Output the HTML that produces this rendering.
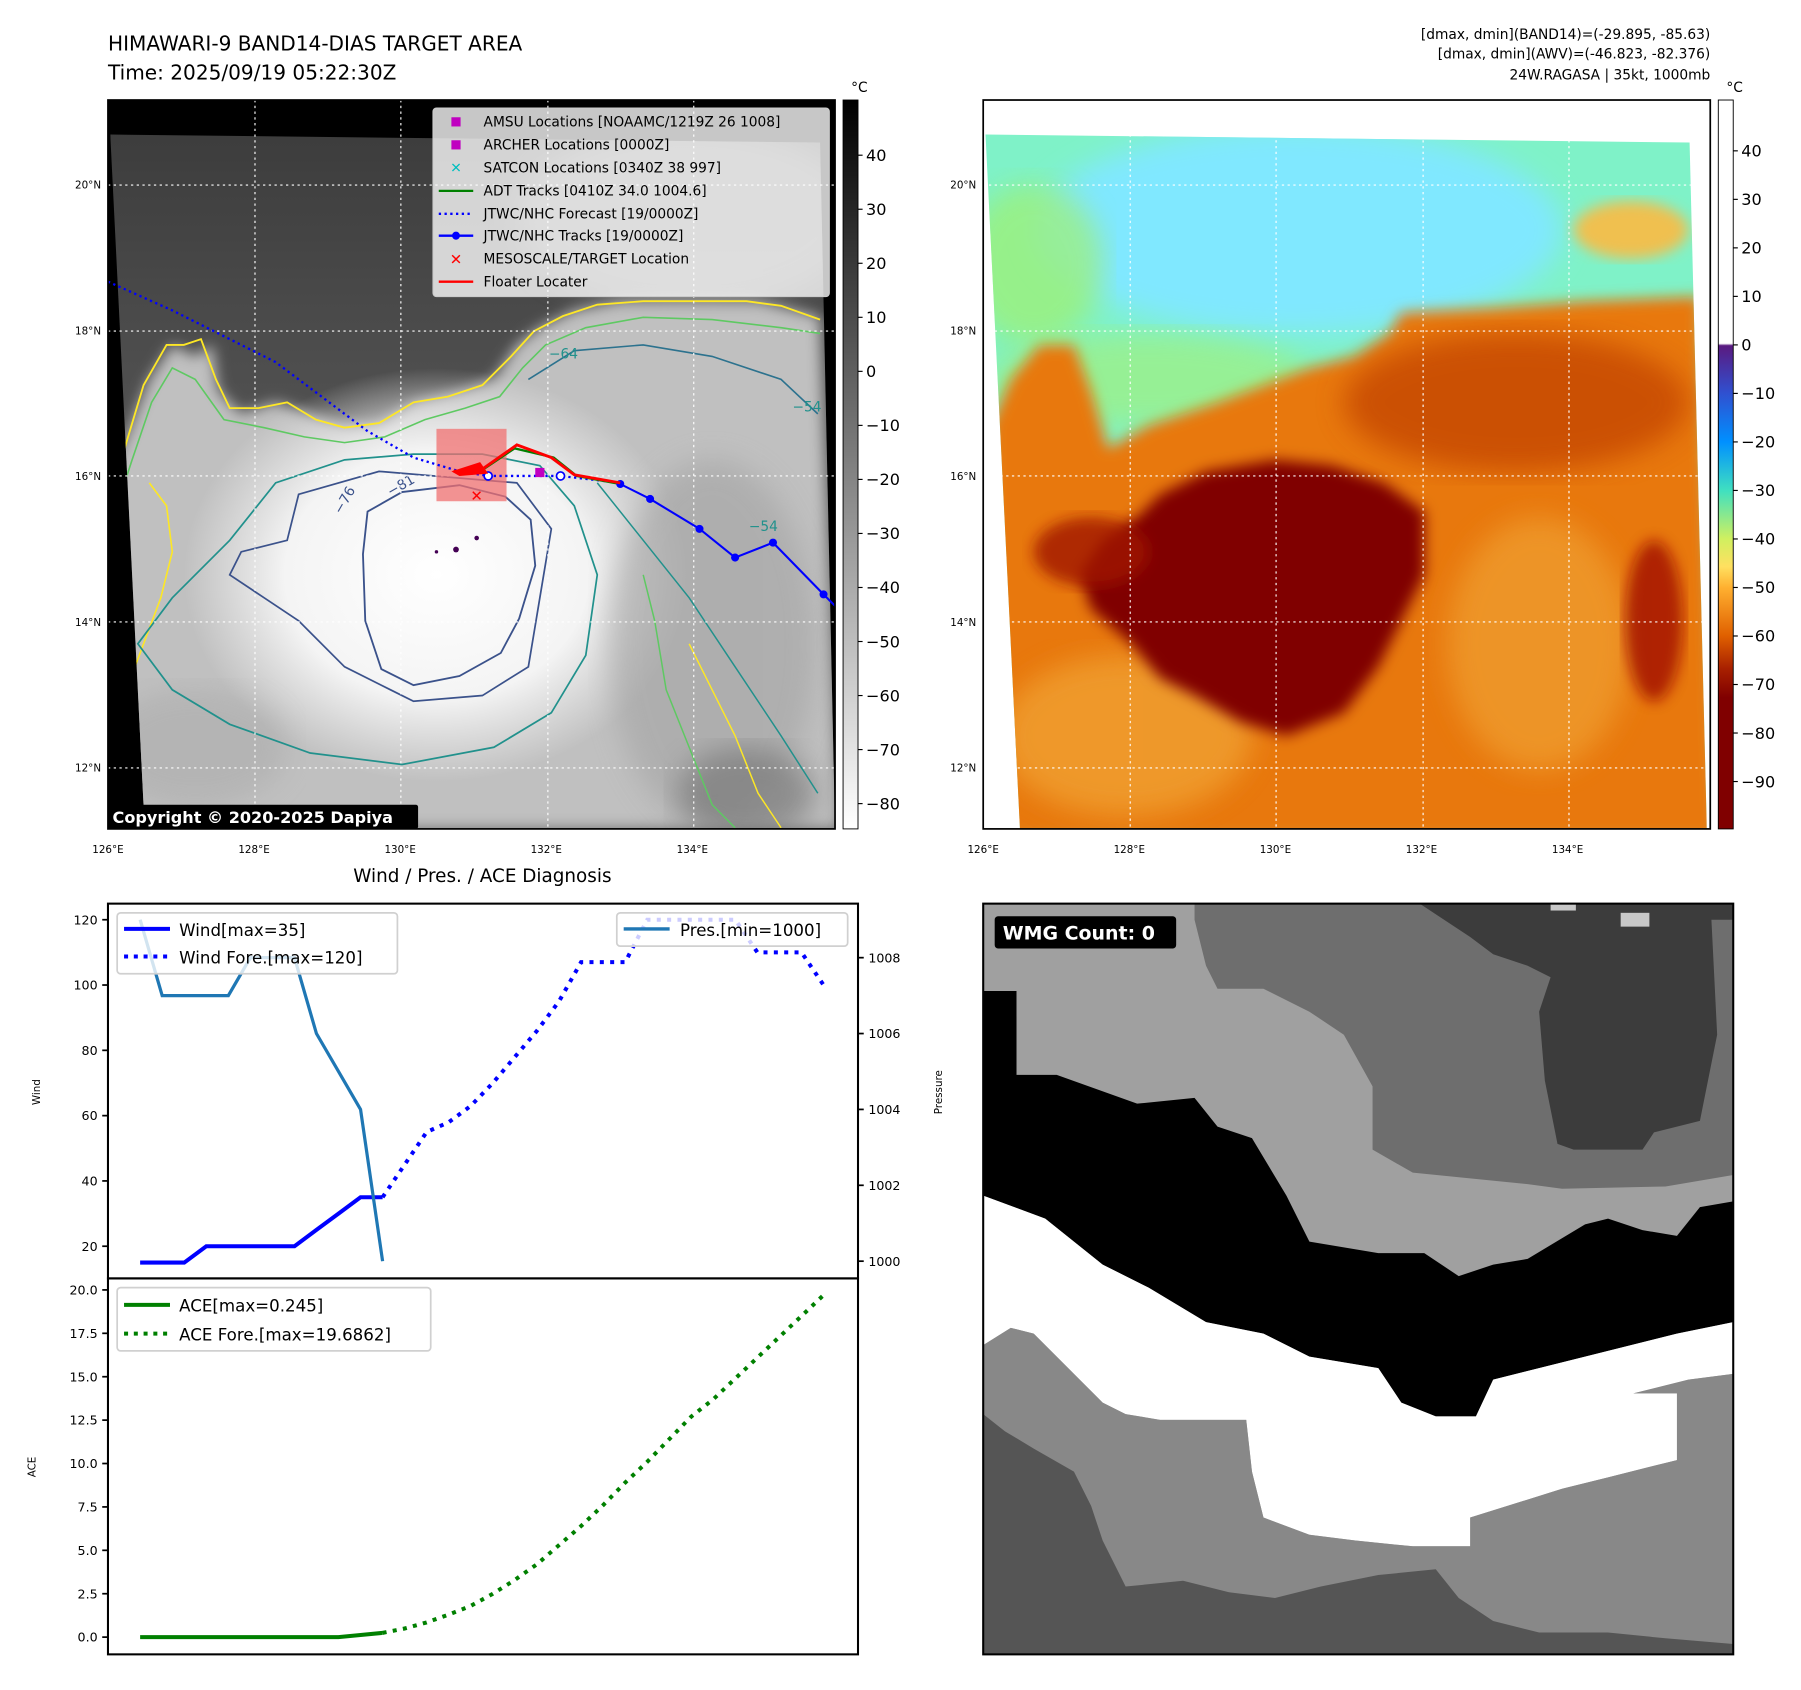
<!DOCTYPE html>
<html><head><meta charset="utf-8"><style>
html,body{margin:0;padding:0;background:#fff;}
svg{display:block;font-family:"DejaVu Sans","Liberation Sans",sans-serif;}
</style></head><body>
<svg id="fig" width="1801" height="1690" viewBox="0 0 1568 1470" preserveAspectRatio="none" xmlns="http://www.w3.org/2000/svg">
<defs>
<linearGradient id="grayBar" x1="0" y1="0" x2="0" y2="1"><stop offset="0" stop-color="#000"/><stop offset="1" stop-color="#fff"/></linearGradient>
<linearGradient id="tempBar" x1="0" y1="0" x2="0" y2="1">
<stop offset="0" stop-color="#fff"/><stop offset="0.334" stop-color="#fff"/><stop offset="0.337" stop-color="#5a1a80"/>
<stop offset="0.402" stop-color="#3050d0"/><stop offset="0.469" stop-color="#0090ff"/><stop offset="0.536" stop-color="#40e0c0"/>
<stop offset="0.602" stop-color="#d0f060"/><stop offset="0.64" stop-color="#ffe060"/><stop offset="0.669" stop-color="#ffb030"/>
<stop offset="0.735" stop-color="#e06000"/><stop offset="0.78" stop-color="#a82000"/><stop offset="0.82" stop-color="#800000"/><stop offset="1" stop-color="#800000"/></linearGradient>
<linearGradient id="irGray" x1="0" y1="0" x2="0" y2="1"><stop offset="0" stop-color="#3c3c3c"/><stop offset="0.3" stop-color="#4c4c4c"/><stop offset="1" stop-color="#6a6a6a"/></linearGradient>
<radialGradient id="cdo" cx="0.5" cy="0.5" r="0.5"><stop offset="0" stop-color="#fff"/><stop offset="0.6" stop-color="#f4f4f4"/><stop offset="1" stop-color="#f0f0f0" stop-opacity="0"/></radialGradient>
<filter id="blur6"><feGaussianBlur stdDeviation="6"/></filter>
<filter id="blur12"><feGaussianBlur stdDeviation="12"/></filter>
<clipPath id="clipL"><rect x="94" y="87" width="633" height="634"/></clipPath>
<clipPath id="clipR"><rect x="856" y="87" width="633" height="634"/></clipPath>
<clipPath id="clipIRL"><polygon points="96,117 714,124 727,721 126,721"/></clipPath>
<clipPath id="clipIRR"><polygon points="858,117 1471,124 1486,721 888,721"/></clipPath>
<clipPath id="clipW"><rect x="856" y="786" width="653" height="653"/></clipPath>
</defs>

<text x="94" y="44" font-size="17.5">HIMAWARI-9 BAND14-DIAS TARGET AREA</text>
<text x="94" y="69" font-size="17.5">Time: 2025/09/19 05:22:30Z</text>
<g font-size="12" text-anchor="end">
<text x="1489" y="34">[dmax, dmin](BAND14)=(-29.895, -85.63)</text>
<text x="1489" y="51">[dmax, dmin](AWV)=(-46.823, -82.376)</text>
<text x="1489" y="69">24W.RAGASA | 35kt, 1000mb</text>
</g>

<!-- LEFT MAP -->
<g clip-path="url(#clipL)">
<rect x="94" y="87" width="633" height="634" fill="#000"/>
<g clip-path="url(#clipIRL)">
<rect x="90" y="110" width="640" height="620" fill="url(#irGray)"/>
<ellipse cx="600" cy="190" rx="150" ry="80" fill="#777" opacity="0.7" filter="url(#blur12)"/>
<polygon filter="url(#blur6)" fill="#c0c0c0" points="96,410 110,380 130,330 150,300 170,310 185,300 190,340 210,360 240,350 270,360 300,370 330,370 360,350 400,340 430,330 450,300 470,285 500,270 540,262 600,262 660,262 714,275 730,721 96,721"/>
<ellipse cx="380" cy="500" rx="220" ry="180" fill="url(#cdo)"/>
<ellipse cx="620" cy="560" rx="90" ry="160" fill="#a0a0a0" opacity="0.55" filter="url(#blur12)"/>
<ellipse cx="170" cy="650" rx="80" ry="50" fill="#a8a8a8" opacity="0.5" filter="url(#blur12)"/>
<ellipse cx="650" cy="690" rx="60" ry="40" fill="#707070" opacity="0.6" filter="url(#blur12)"/>
<polyline fill="none" stroke="#fde725" stroke-width="1.6" points="100,420 110,385 125,335 145,300 160,300 175,295 188,330 200,355 225,355 250,350 275,365 300,372 330,368 360,350 390,345 420,335 445,310 465,288 490,275 520,265 560,262 600,262 650,262 680,266 714,278"/>
<polyline fill="none" stroke="#5ec962" stroke-width="1.4" points="102,440 115,400 132,350 150,320 170,330 195,365 230,372 265,380 300,385 335,380 370,365 405,355 435,345 455,320 475,300 510,285 560,276 620,278 680,285 714,290"/>
<polyline fill="none" stroke="#fde725" stroke-width="1.4" points="110,600 125,560 140,520 150,480 145,440 130,420"/>
<polyline fill="none" stroke="#5ec962" stroke-width="1.3" points="560,500 570,540 580,600 600,650 620,700 640,720"/>
<polyline fill="none" stroke="#fde725" stroke-width="1.3" points="600,560 620,600 640,640 660,690 680,720"/>
<polygon fill="none" stroke="#21918c" stroke-width="1.5" points="120,560 150,520 200,470 240,420 300,400 360,395 420,395 470,405 500,440 520,500 510,570 480,620 430,650 350,665 270,655 200,630 150,600"/>
<polyline fill="none" stroke="#2c728e" stroke-width="1.4" points="460,330 500,305 560,300 620,310 680,330 712,360"/>
<polyline fill="none" stroke="#21918c" stroke-width="1.3" points="520,420 560,470 600,520 640,580 680,640 712,690"/>
<polygon fill="none" stroke="#3b528b" stroke-width="1.5" points="260,430 330,410 450,420 480,460 470,520 460,580 420,605 360,610 340,600 300,580 260,540 230,520 200,500 210,480 250,470"/>
<polygon fill="none" stroke="#3b528b" stroke-width="1.6" points="320,445 350,428 400,422 440,432 462,452 466,492 452,538 436,568 400,588 360,596 332,582 318,540 316,482"/>
<g fill="#440154"><circle cx="397" cy="478" r="2.5"/><circle cx="415" cy="468" r="2"/><circle cx="380" cy="480" r="1.5"/></g>
<g font-size="12" fill="#21918c"><text x="478" y="312">−64</text><text x="690" y="358">−54</text><text x="652" y="462">−54</text></g>
<g font-size="12" fill="#3b528b"><text x="297" y="448" transform="rotate(-60 297 448)">−76</text><text x="340" y="432" transform="rotate(-30 340 432)">−81</text></g>
</g>
<g stroke="#fff" stroke-width="1" stroke-dasharray="2,3">
<line x1="222" y1="87" x2="222" y2="721"/><line x1="349" y1="87" x2="349" y2="721"/><line x1="477" y1="87" x2="477" y2="721"/><line x1="604" y1="87" x2="604" y2="721"/>
<line x1="94" y1="161" x2="727" y2="161"/><line x1="94" y1="288" x2="727" y2="288"/><line x1="94" y1="414" x2="727" y2="414"/><line x1="94" y1="541" x2="727" y2="541"/><line x1="94" y1="668" x2="727" y2="668"/>
</g>
<rect x="380" y="373" width="61" height="63" fill="#f07070" opacity="0.75"/>
<polyline fill="none" stroke="#0000ff" stroke-width="2" stroke-dasharray="2,3" points="94,245 150,270 190,290 240,315 280,345 320,375 360,398 400,410 425,414 488,414 540,420"/>
<polyline fill="none" stroke="#008000" stroke-width="2" points="418,410 448,390 482,398 502,414 540,421"/>
<polyline fill="none" stroke="#0000ff" stroke-width="1.8" points="540,421 566,434 609,460 640,485 673,472 717,517 730,530"/>
<g fill="#0000ff"><circle cx="540" cy="421" r="3.5"/><circle cx="566" cy="434" r="3.5"/><circle cx="609" cy="460" r="3.5"/><circle cx="640" cy="485" r="3.5"/><circle cx="673" cy="472" r="3.5"/><circle cx="717" cy="517" r="3.5"/></g>
<g fill="#fff" stroke="#0000ff" stroke-width="1.5"><circle cx="425" cy="414" r="3.5"/><circle cx="488" cy="414" r="3.5"/></g>
<polyline fill="none" stroke="#ff0000" stroke-width="2.5" points="395,410 420,408 450,387 480,398 500,413 540,420"/>
<polygon fill="#ff0000" points="393,410 418,402 425,412 400,414"/>
<rect x="466" y="407" width="8" height="8" fill="#c000c0"/>
<text x="415" y="436" font-size="13" fill="#ff0000" text-anchor="middle">✕</text>
</g>
<rect x="94" y="87" width="633" height="634" fill="none" stroke="#000" stroke-width="1.5"/>
<g font-size="12">
<rect x="377" y="94" width="345" height="164" rx="3" fill="#fff" fill-opacity="0.78" stroke="#ccc"/>
<rect x="393" y="102" width="8" height="8" fill="#c000c0"/><text x="421" y="110">AMSU Locations [NOAAMC/1219Z 26 1008]</text>
<rect x="393" y="122" width="8" height="8" fill="#c000c0"/><text x="421" y="130">ARCHER Locations [0000Z]</text>
<text x="397" y="150" fill="#00bfbf" text-anchor="middle" font-size="12">✕</text><text x="421" y="150">SATCON Locations [0340Z 38 997]</text>
<line x1="382" y1="166" x2="412" y2="166" stroke="#008000" stroke-width="2"/><text x="421" y="170">ADT Tracks [0410Z 34.0 1004.6]</text>
<line x1="382" y1="186" x2="412" y2="186" stroke="#0000ff" stroke-width="2" stroke-dasharray="2,3"/><text x="421" y="190">JTWC/NHC Forecast [19/0000Z]</text>
<line x1="382" y1="205" x2="412" y2="205" stroke="#0000ff" stroke-width="2"/><circle cx="397" cy="205" r="3.5" fill="#0000ff"/><text x="421" y="209">JTWC/NHC Tracks [19/0000Z]</text>
<text x="397" y="230" fill="#ff0000" text-anchor="middle" font-size="13" font-weight="bold">✕</text><text x="421" y="229">MESOSCALE/TARGET Location</text>
<line x1="382" y1="245" x2="412" y2="245" stroke="#ff0000" stroke-width="2"/><text x="421" y="249">Floater Locater</text>
</g>
<rect x="94" y="700" width="270" height="21" rx="2" fill="#000"/>
<text x="98" y="716" font-size="14" font-weight="bold" fill="#fff">Copyright © 2020-2025 Dapiya</text>

<rect x="734" y="87" width="13" height="634" fill="url(#grayBar)" stroke="#000" stroke-width="0.8"/>
<text x="741" y="80" font-size="12">°C</text>
<g id="cbL" font-size="14"></g>

<!-- RIGHT MAP -->
<g clip-path="url(#clipR)">
<rect x="856" y="87" width="633" height="634" fill="#fff"/>
<g clip-path="url(#clipIRR)">
<rect x="850" y="110" width="650" height="620" fill="#7ff2c8"/>
<ellipse cx="1130" cy="200" rx="230" ry="90" fill="#80e8ff" filter="url(#blur12)"/>
<ellipse cx="900" cy="230" rx="60" ry="70" fill="#a0f070" opacity="0.7" filter="url(#blur12)"/>
<ellipse cx="1420" cy="200" rx="50" ry="25" fill="#f0c050" filter="url(#blur6)"/>
<ellipse cx="1000" cy="330" rx="140" ry="40" fill="#a0f080" opacity="0.7" filter="url(#blur12)"/>
<polygon filter="url(#blur6)" fill="#e87810" points="862,370 880,330 905,300 935,300 950,340 965,390 1000,370 1060,350 1100,335 1140,320 1180,310 1210,290 1220,272 1300,268 1380,262 1480,258 1495,730 862,730"/>
<ellipse cx="1320" cy="350" rx="150" ry="60" fill="#c04000" opacity="0.7" filter="url(#blur12)"/>
<ellipse cx="980" cy="640" rx="110" ry="70" fill="#f0a030" opacity="0.8" filter="url(#blur12)"/>
<ellipse cx="1340" cy="560" rx="80" ry="110" fill="#f0a030" opacity="0.7" filter="url(#blur12)"/>
<ellipse cx="1440" cy="540" rx="25" ry="70" fill="#a01000" opacity="0.8" filter="url(#blur6)"/>
<polygon filter="url(#blur6)" fill="#800000" points="1010,430 1050,410 1110,400 1160,405 1205,420 1240,445 1240,500 1220,540 1200,580 1170,620 1120,640 1080,628 1040,605 1010,590 985,560 950,530 940,500 960,470 990,450"/>
<ellipse cx="950" cy="480" rx="50" ry="30" fill="#a01800" opacity="0.8" filter="url(#blur6)"/>
</g>
<g stroke="#fff" stroke-width="1" stroke-dasharray="2,3">
<line x1="984" y1="87" x2="984" y2="721"/><line x1="1111" y1="87" x2="1111" y2="721"/><line x1="1239" y1="87" x2="1239" y2="721"/><line x1="1366" y1="87" x2="1366" y2="721"/>
<line x1="856" y1="161" x2="1489" y2="161"/><line x1="856" y1="288" x2="1489" y2="288"/><line x1="856" y1="414" x2="1489" y2="414"/><line x1="856" y1="541" x2="1489" y2="541"/><line x1="856" y1="668" x2="1489" y2="668"/>
</g>
</g>
<rect x="856" y="87" width="633" height="634" fill="none" stroke="#000" stroke-width="1.5"/>
<rect x="1496" y="87" width="13" height="634" fill="url(#tempBar)" stroke="#000" stroke-width="0.8"/>
<text x="1503" y="80" font-size="12">°C</text>
<g id="cbR" font-size="14"></g>
<g id="mapAxes" font-size="9"></g>

<!-- WIND / PRES / ACE -->
<text x="420" y="767" font-size="16" text-anchor="middle">Wind / Pres. / ACE Diagnosis</text>
<rect x="94" y="786" width="653" height="326" fill="#fff"/>
<g id="windG"></g>
<rect x="94" y="786" width="653" height="326" fill="none" stroke="#000" stroke-width="1.8"/>
<g id="aceG"></g>
<rect x="94" y="1112" width="653" height="327" fill="none" stroke="#000" stroke-width="1.8"/>
<text x="35" y="950" font-size="9" text-anchor="middle" transform="rotate(-90 35 950)">Wind</text>
<text x="820" y="950" font-size="9" text-anchor="middle" transform="rotate(-90 820 950)">Pressure</text>
<text x="31" y="1276" font-size="9" text-anchor="middle" transform="rotate(-90 31 1276)">ACE</text>
<g font-size="14.5">
<rect x="102" y="794" width="244" height="53" rx="3" fill="#fff" fill-opacity="0.8" stroke="#d0d0d0" stroke-width="1.5"/>
<line x1="108" y1="808" x2="148" y2="808" stroke="#0000ff" stroke-width="3.5"/><text x="156" y="814">Wind[max=35]</text>
<line x1="108" y1="832" x2="148" y2="832" stroke="#0000ff" stroke-width="3.5" stroke-dasharray="3.5,5"/><text x="156" y="838">Wind Fore.[max=120]</text>
</g>
<g font-size="14.5">
<rect x="537" y="794" width="201" height="29" rx="3" fill="#fff" fill-opacity="0.8" stroke="#d0d0d0" stroke-width="1.5"/>
<line x1="543" y1="808" x2="583" y2="808" stroke="#1f77b4" stroke-width="3"/><text x="592" y="814">Pres.[min=1000]</text>
</g>
<g font-size="14.5">
<rect x="102" y="1120" width="273" height="55" rx="3" fill="#fff" fill-opacity="0.8" stroke="#d0d0d0" stroke-width="1.5"/>
<line x1="108" y1="1135" x2="148" y2="1135" stroke="#008000" stroke-width="3.5"/><text x="156" y="1141">ACE[max=0.245]</text>
<line x1="108" y1="1160" x2="148" y2="1160" stroke="#008000" stroke-width="3.5" stroke-dasharray="3.5,5"/><text x="156" y="1166">ACE Fore.[max=19.6862]</text>
</g>

<!-- WMG -->
<g clip-path="url(#clipW)">
<rect x="856" y="786" width="653" height="653" fill="#a0a0a0"/>
<polygon fill="#6e6e6e" points="1040,786 1509,786 1509,1022 1450,1032 1360,1034 1330,1030 1230,1020 1195,1000 1195,945 1170,900 1140,880 1100,860 1060,860 1050,840 1040,800"/>
<polygon fill="#3c3c3c" points="1236,786 1509,786 1509,800 1490,800 1495,900 1480,975 1440,985 1430,1000 1370,1000 1356,995 1345,940 1340,880 1350,850 1330,840 1300,830 1280,815"/>
<polygon fill="#000" points="856,862 885,862 885,935 920,935 990,960 1040,955 1060,980 1090,990 1120,1040 1140,1080 1200,1090 1240,1090 1270,1110 1300,1100 1330,1095 1380,1065 1400,1060 1430,1070 1460,1075 1480,1050 1509,1045 1509,1150 1460,1160 1420,1170 1380,1180 1300,1200 1285,1232 1250,1232 1220,1220 1200,1190 1140,1180 1100,1160 1050,1150 1000,1120 960,1100 910,1060 856,1040"/>
<polygon fill="#fff" points="856,1040 910,1060 960,1100 1000,1120 1050,1150 1100,1160 1140,1180 1200,1190 1220,1220 1250,1232 1285,1232 1300,1200 1380,1180 1420,1170 1460,1160 1509,1150 1509,1195 1470,1200 1422,1212 1460,1212 1460,1270 1400,1285 1360,1295 1280,1320 1280,1345 1230,1345 1180,1340 1140,1335 1100,1320 1090,1280 1085,1235 1010,1235 980,1230 960,1220 940,1200 920,1180 900,1160 880,1155 856,1170"/>
<polygon fill="#888" points="856,1170 880,1155 900,1160 920,1180 940,1200 960,1220 980,1230 1010,1235 1085,1235 1090,1280 1100,1320 1140,1335 1180,1340 1230,1345 1280,1345 1280,1320 1360,1295 1400,1285 1460,1270 1460,1212 1422,1212 1470,1200 1509,1195 1509,1439 856,1439"/>
<polygon fill="#555" points="856,1230 875,1245 900,1260 935,1280 950,1310 960,1340 980,1380 1030,1375 1070,1385 1110,1390 1150,1380 1200,1370 1250,1365 1270,1390 1300,1410 1340,1420 1400,1420 1450,1425 1509,1430 1509,1439 856,1439"/>
<rect x="1350" y="786" width="22" height="6" fill="#c8c8c8"/><rect x="1411" y="794" width="25" height="12" fill="#c8c8c8"/>
</g>
<rect x="856" y="786" width="653" height="653" fill="none" stroke="#000" stroke-width="1.8"/>
<rect x="866" y="797" width="158" height="28" rx="3" fill="#000"/>
<text x="873" y="817" font-size="16.5" font-weight="bold" fill="#fff">WMG Count: 0</text>
</svg>
<script>
var windObs = [15,15,15,20,20,20,20,20,25,30,35,35];
var presObs = [1009,1007,1007,1007,1007,1008,1008,1008,1006,1005,1004,1000];
var windFore = [35,45,55,58,63,70,78,86,95,107,107,107,120,120,120,120,120,110,110,110,100];
var aceObs = [0,0,0,0,0,0,0,0,0,0,0.12,0.245];
var aceFore = [0.245,0.5,0.85,1.3,1.8,2.5,3.3,4.2,5.3,6.4,7.6,8.9,10.1,11.4,12.7,13.7,14.9,16.1,17.3,18.5,19.7];
var windTicks = [20,40,60,80,100,120];
var presTicks = [1000,1002,1004,1006,1008];
var aceTicks = [0,2.5,5,7.5,10,12.5,15,17.5,20];
var grayTicks = [40,30,20,10,0,-10,-20,-30,-40,-50,-60,-70,-80];
var tempTicks = [40,30,20,10,0,-10,-20,-30,-40,-50,-60,-70,-80,-90];
var lonTicks = ["126°E","128°E","130°E","132°E","134°E"];
var latTicks = ["20°N","18°N","16°N","14°N","12°N"];
var foreStart = 11;

var NS = "http://www.w3.org/2000/svg";
function mk(tag, attrs, parent){var e=document.createElementNS(NS,tag);for(var k in attrs)e.setAttribute(k,attrs[k]);parent.appendChild(e);return e;}
function xT(i){return 122 + i*(717-122)/31;}
function yW(v){return 1084 - (v-20)*2.84;}
function yP(p){return 1097 - (p-1000)*33;}
function yA(a){return 1424 - a*15.1;}
function yGray(v){return 323 - v*4.7;}
function yTemp(v){return 300 - v*4.22;}
function lonX(d){return 94 + (d-126)*63.6;}
function latY(d){return 161 + (20-d)*63.4;}
function pts(arr, off, yf){return arr.map(function(v,i){return xT(i+off).toFixed(1)+","+yf(v).toFixed(1);}).join(" ");}

var wg=document.getElementById("windG"), ag=document.getElementById("aceG");
var fig=document.getElementById("fig");
windTicks.forEach(function(v){
  var t=mk("line",{x1:89,x2:94,y1:yW(v),y2:yW(v),stroke:"#000","stroke-width":1.5},fig);
  
  
  var l=mk("text",{x:85,y:yW(v)+4,"font-size":11,"text-anchor":"end"},fig); l.textContent=v;
  
  
});
presTicks.forEach(function(v){
  var t=mk("line",{x1:747,x2:752,y1:yP(v),y2:yP(v),stroke:"#000","stroke-width":1.5},fig);
  
  
  var l=mk("text",{x:756,y:yP(v)+4,"font-size":11},fig); l.textContent=v;
  
  
});
aceTicks.forEach(function(v){
  var t=mk("line",{x1:89,x2:94,y1:yA(v),y2:yA(v),stroke:"#000","stroke-width":1.5},fig);
  
  
  var l=mk("text",{x:85,y:yA(v)+4,"font-size":11,"text-anchor":"end"},fig); l.textContent=v.toFixed(1);
  
  
});
var wf=mk("polyline",{points:pts(windFore,foreStart,yW),fill:"none",stroke:"#0000ff","stroke-width":3.5,"stroke-dasharray":"3.5,5.5"},wg);


var wo=mk("polyline",{points:pts(windObs,0,yW),fill:"none",stroke:"#0000ff","stroke-width":3.5},wg);


var pl=mk("polyline",{points:pts(presObs,0,yP),fill:"none",stroke:"#1f77b4","stroke-width":2.8},wg);


var af=mk("polyline",{points:pts(aceFore,foreStart,yA),fill:"none",stroke:"#008000","stroke-width":3.5,"stroke-dasharray":"3.5,5.5"},ag);


var ao=mk("polyline",{points:pts(aceObs,0,yA),fill:"none",stroke:"#008000","stroke-width":3.5},ag);


var cbL=document.getElementById("cbL"), cbR=document.getElementById("cbR");
grayTicks.forEach(function(v){
  mk("line",{x1:747,x2:751,y1:yGray(v),y2:yGray(v),stroke:"#000"},cbL);
  var l=mk("text",{x:754,y:yGray(v)+5},cbL); l.textContent=(v<0?"−"+(-v):v);
  
  
});
tempTicks.forEach(function(v){
  mk("line",{x1:1509,x2:1513,y1:yTemp(v),y2:yTemp(v),stroke:"#000"},cbR);
  var l=mk("text",{x:1516,y:yTemp(v)+5},cbR); l.textContent=(v<0?"−"+(-v):v);
  
  
});
var ma=document.getElementById("mapAxes");
[0,762].forEach(function(off){
  lonTicks.forEach(function(s,i){
    var l=mk("text",{x:lonX(126+2*i)+off,y:742,"text-anchor":"middle"},ma); l.textContent=s;
    
    
  });
  latTicks.forEach(function(s,i){
    var l=mk("text",{x:88+off,y:latY(20-2*i)+3,"text-anchor":"end"},ma); l.textContent=s;
    
    
  });
});
</script>
</body></html>
